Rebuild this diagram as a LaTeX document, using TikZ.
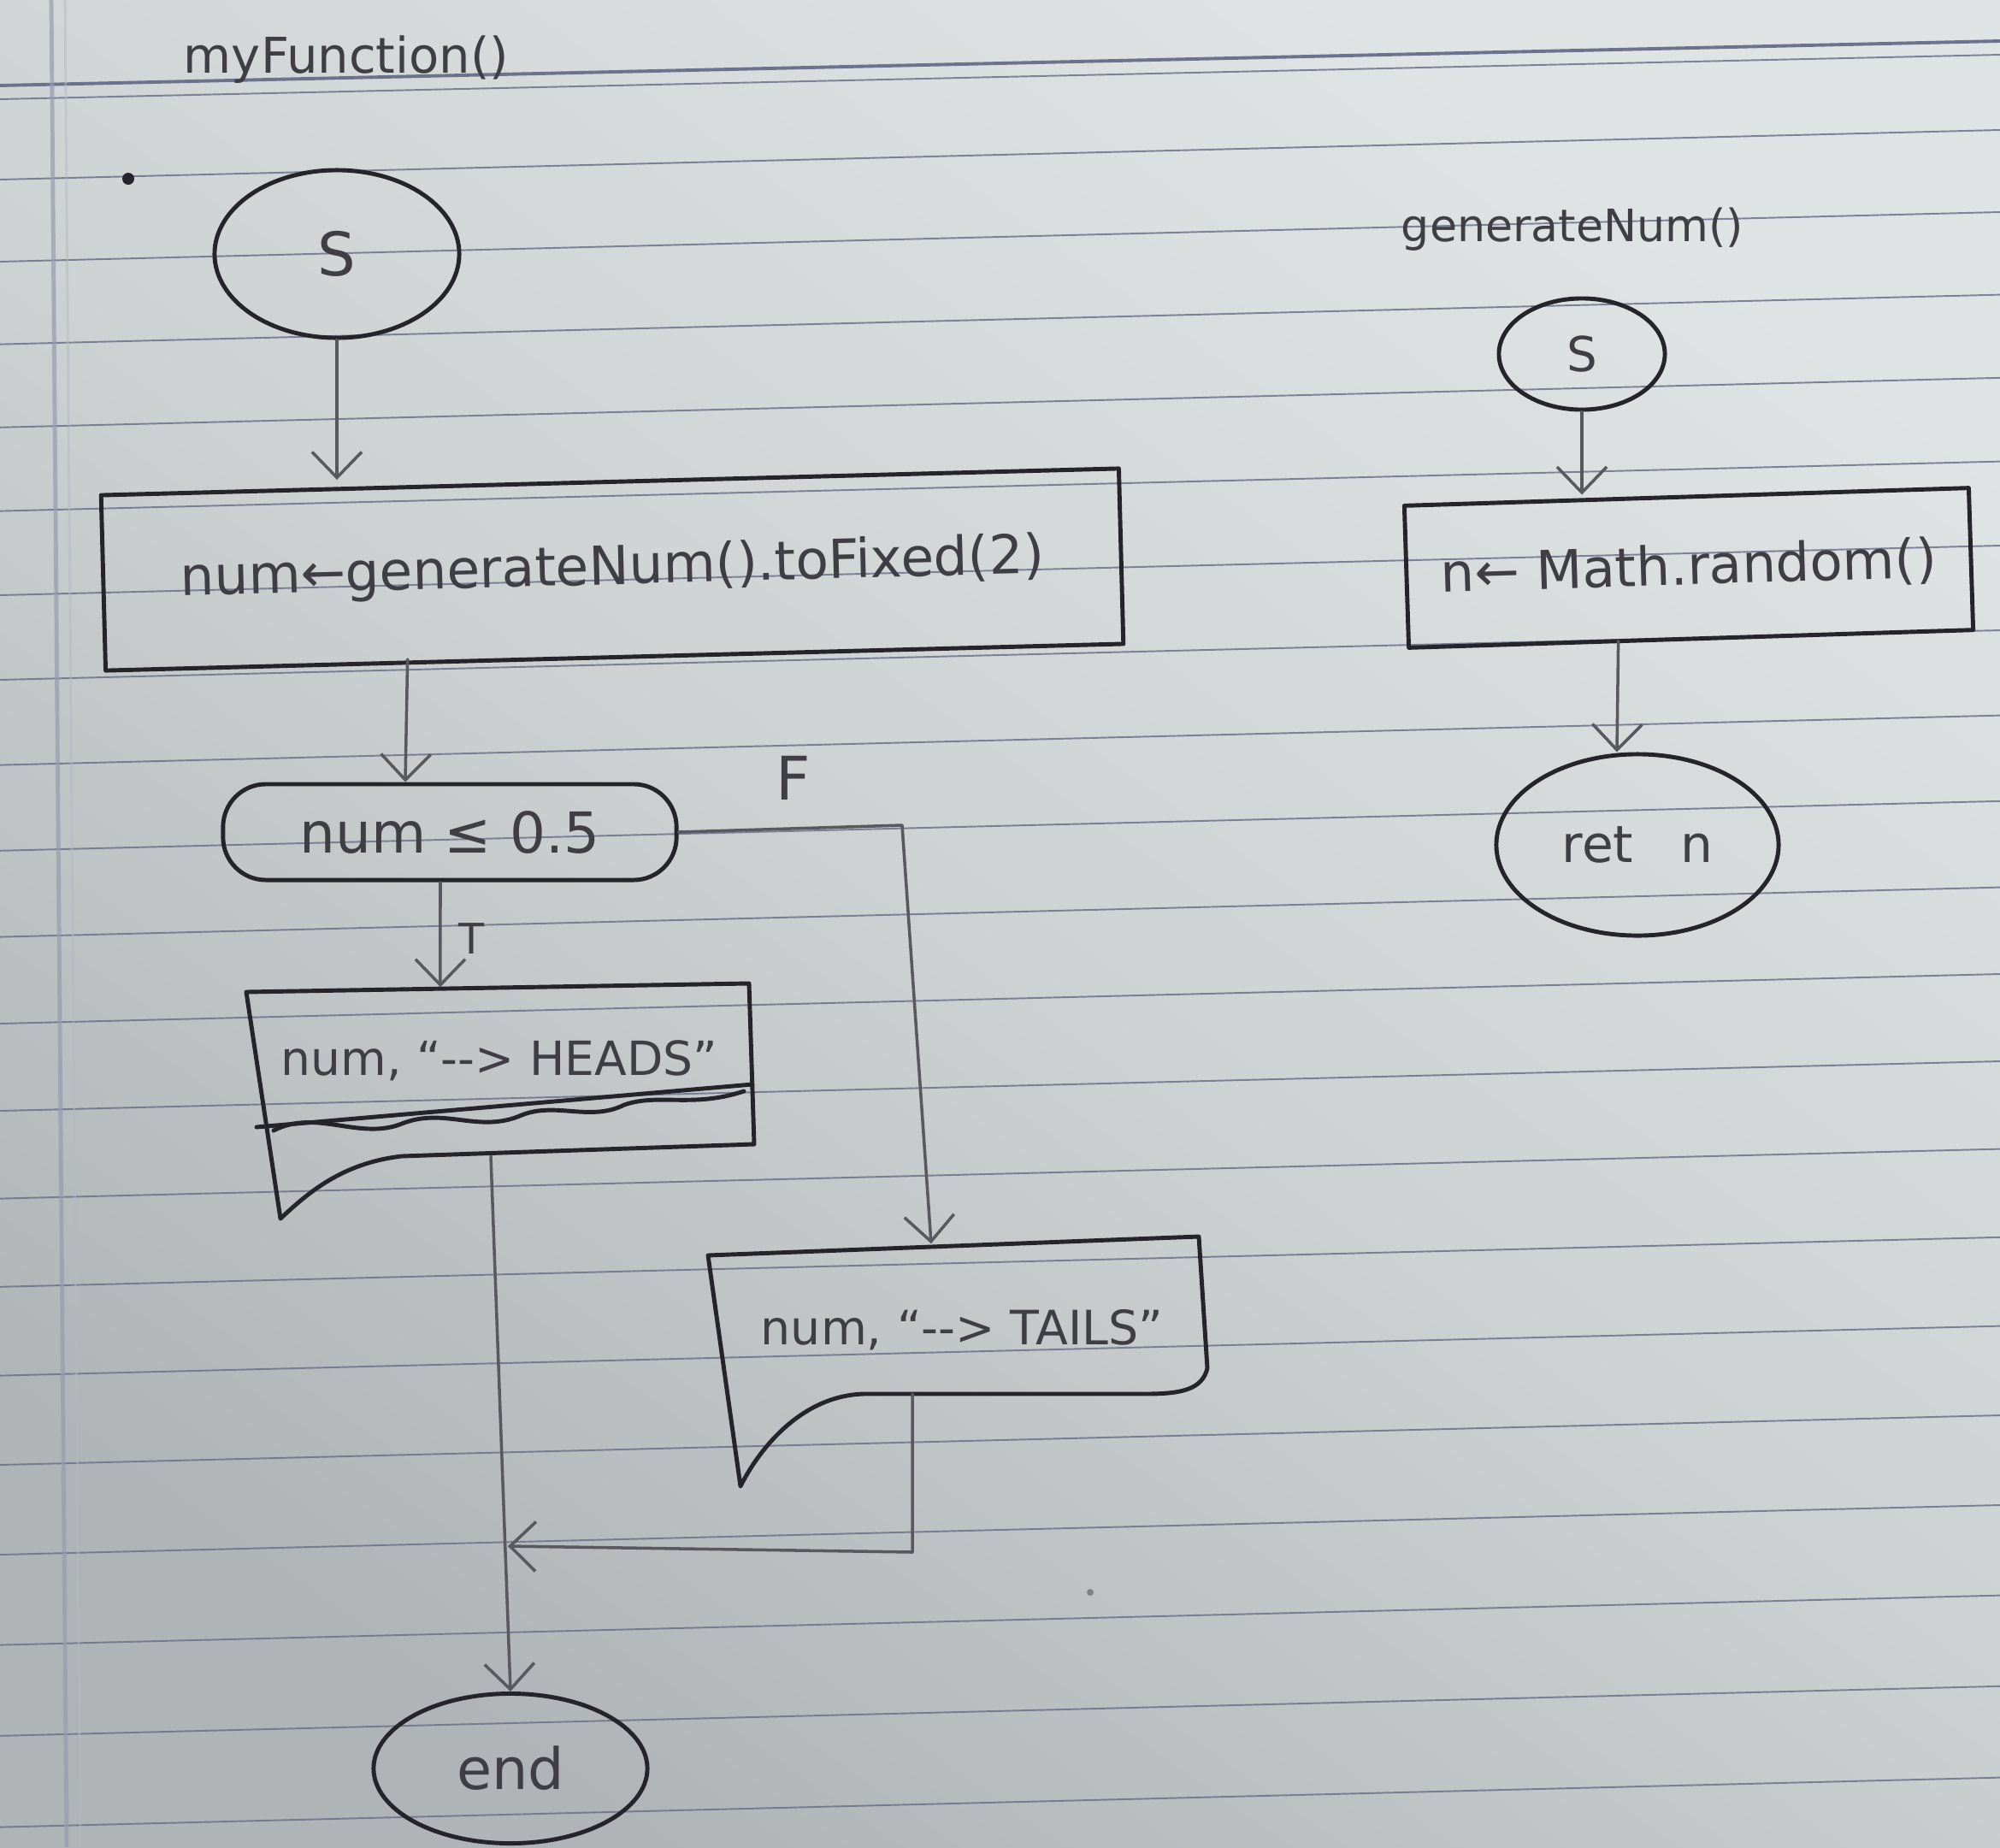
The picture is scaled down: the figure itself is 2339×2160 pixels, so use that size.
\documentclass[tikz,border=0pt]{standalone}
\usepackage{fontspec}
\setmainfont{DejaVu Sans}
\usepackage{graphicx}
\usetikzlibrary{arrows.meta,shapes.geometric,calc}

\definecolor{paperlight}{RGB}{224,227,228}
\definecolor{papermid}{RGB}{206,210,211}
\definecolor{paperdark}{RGB}{176,180,182}
\definecolor{rulecol}{RGB}{108,113,140}
\definecolor{ink}{RGB}{36,36,42}
\definecolor{pencil}{RGB}{62,62,68}
\definecolor{wire}{RGB}{88,88,94}

\newcommand{\hw}[2]{\resizebox{#1}{!}{#2}}

\tikzset{
  pen/.style={draw=ink, line width=1.4pt, line cap=round, line join=round},
  wirearrow/.style={draw=wire, line width=1.0pt, line cap=round, line join=round,
    -{Straight Barb[length=0.3cm, width=0.58cm, line width=1.0pt]}},
  wireline/.style={draw=wire, line width=1.0pt, line cap=round, line join=round},
  terminal/.style={ellipse, pen, inner sep=0pt, text=pencil},
  procbox/.style={rectangle, pen, inner sep=0pt, text=pencil},
  decision/.style={rectangle, rounded corners=0.5cm, pen, inner sep=0pt, text=pencil},
  docnode/.style={rectangle, draw=none, inner sep=0pt, text=pencil},
  handlabel/.style={inner sep=0pt, text=pencil},
  ruleline/.style={draw=rulecol, line width=0.55pt, opacity=0.85},
}

\begin{document}
\begin{tikzpicture}[x=0.01cm, y=-0.01cm]
  \useasboundingbox (0,0) rectangle (2339,2160);

  % notebook paper
  \shade[shading=axis, top color=paperlight, bottom color=paperdark, middle color=papermid, shading angle=-35]
    (0,0) rectangle (2339,2160);
  \foreach \j in {0,...,20} {
    \pgfmathsetmacro\yl{210+96*\j+0.3*\j*(\j-1)}
    \draw[ruleline] (0,\yl) -- (2339,{\yl-58});
  }
  \draw[draw=rulecol, line width=1.1pt] (0,100) -- (2339,48);
  \draw[ruleline] (0,116) -- (2339,64);
  \draw[draw=rulecol!70!white, line width=1.4pt, opacity=0.7] (60,0) -- (78,2160);
  \draw[draw=rulecol!50!white, line width=0.8pt, opacity=0.5] (76,0) -- (94,2160);

  % stray pen marks
  \fill[ink] (150,209) circle (7);
  \fill[wire, opacity=0.6] (1275,1862) circle (4);

  % ---------- myFunction() ----------
  \node[handlabel] (title1) at (405,70) {\hw{3.8cm}{myFunction()}};

  \node[terminal, minimum width=2.86cm, minimum height=1.96cm] (start) at (394,297)
    {\fontsize{20}{24}\selectfont S};

  \node[procbox, minimum width=11.9cm, minimum height=2.05cm, rotate=1.5] (proc1) at (716,666)
    {\hw{10.1cm}{num←generateNum().toFixed(2)}};

  \node[decision, minimum width=5.3cm, minimum height=1.12cm] (dec) at (526,973)
    {\hw{3.5cm}{num ≤ 0.5}};

  \node[docnode, minimum width=5.9cm, minimum height=1.7cm] (out1) at (584,1240)
    {\hw{5.1cm}{num, “-\kern0pt-> HEADS”}};
  \node[docnode, minimum width=5.8cm, minimum height=2.0cm] (out2) at (1125,1555)
    {\hw{4.7cm}{num, “-\kern0pt-> TAILS”}};

  \node[terminal, minimum width=3.2cm, minimum height=1.75cm] (end) at (597,2068)
    {\fontsize{19}{22}\selectfont end};

  % document outlines
  \draw[pen] (288,1160) -- (876,1150) -- (882,1338) -- (470,1352)
    .. controls (400,1360) and (360,1395) .. (328,1425) -- cycle;
  \draw[pen] (300,1318) -- (880,1268);
  \draw[pen] (320,1322) .. controls (370,1296) and (420,1334) .. (470,1314)
    .. controls (520,1294) and (560,1326) .. (610,1304)
    .. controls (650,1288) and (690,1312) .. (730,1292)
    .. controls (770,1278) and (810,1296) .. (870,1276);
  \draw[pen] (828,1468) -- (1402,1446) -- (1412,1600)
    .. controls (1406,1624) and (1384,1630) .. (1340,1630) -- (1010,1630)
    .. controls (940,1632) and (890,1690) .. (866,1738) -- cycle;

  % connector points on the hand-drawn outlines
  \coordinate (out1bot) at (574,1352);
  \coordinate (out2bot) at (1067,1630);
  \coordinate (fturn) at (1055,965);
  \coordinate (mcorner) at (1067,1815);
  \coordinate (merge) at (594,1808);

  % connectors
  \draw[wirearrow] (start.south) -- (start.south |- proc1.north);
  \draw[wirearrow] ([xshift=-2.42cm]proc1.south) -- ([xshift=-0.52cm]dec.north);
  \draw[wirearrow] ([xshift=-0.11cm]dec.south) -- ([xshift=-0.69cm]out1.north);
  \draw[wirearrow] (dec.east) -- (fturn) -- ([xshift=-0.36cm]out2.north);
  \draw[wirearrow] (out1bot) -- (end.north);
  \draw[wirearrow] (out2bot) -- (mcorner) -- (merge);

  \node[handlabel] (flab) at (928,910) {\fontsize{20}{24}\selectfont F};
  \node[handlabel] (tlab) at (552,1098) {\fontsize{14}{16}\selectfont T};

  % ---------- generateNum() ----------
  \node[handlabel] (title2) at (1839,268) {\hw{4.0cm}{generateNum()}};

  \node[terminal, minimum width=1.94cm, minimum height=1.3cm] (s2) at (1850,414)
    {\fontsize{16}{18}\selectfont S};

  \node[procbox, minimum width=6.6cm, minimum height=1.66cm, rotate=1.8] (proc2) at (1975,664)
    {\hw{5.8cm}{n← Math.random()}};

  \node[terminal, minimum width=3.3cm, minimum height=2.12cm] (ret) at (1915,988)
    {\fontsize{17}{20}\selectfont ret\hspace{0.55cm}n};

  \draw[wirearrow] (s2.south) -- (s2.south |- proc2.north);
  \draw[wirearrow] ([xshift=-0.85cm]proc2.south) -- ([xshift=-0.24cm]ret.north);
\end{tikzpicture}
\end{document}
